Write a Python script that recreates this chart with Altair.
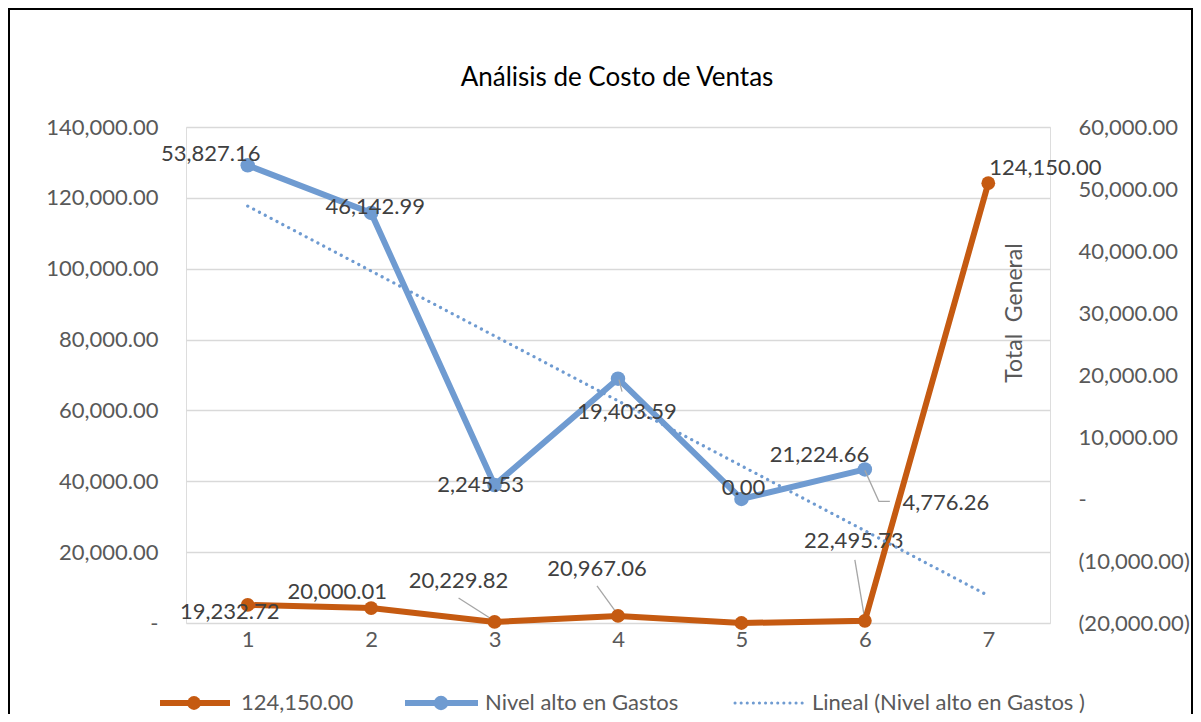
import altair as alt
import pandas as pd

# ---------------- data ----------------
categories = [1, 2, 3, 4, 5, 6, 7]
orange_values = [5100, 4200, 300, 2000, 0, 600, 124150]
orange_labels = ["19,232.72", "20,000.01", "20,229.82", "20,967.06",
                 "21,224.66", "22,495.73", "124,150.00"]
blue_categories = [1, 2, 3, 4, 5, 6]
blue_values = [53827.16, 46142.99, 2245.53, 19403.59, 0.00, 4776.26]
blue_labels = ["53,827.16", "46,142.99", "2,245.53", "19,403.59", "0.00", "4,776.26"]
left_ticks = [0, 20000, 40000, 60000, 80000, 100000, 120000, 140000]
right_ticks = [-20000, -10000, 0, 10000, 20000, 30000, 40000, 50000, 60000]
title_text = "Análisis de Costo de Ventas"
right_title = "Total\u00a0\u00a0General"
legend_names = ["124,150.00", "Nivel alto en Gastos", "Lineal (Nivel alto en Gastos )"]

# ---------------- styles ----------------
FONT = "Lato"
W, H = 864, 496
ORANGE = "#C55A11"
BLUE = "#6F9BD1"
LABEL_C = "#404040"
AXIS_C = "#595959"
FS = 22

# label offsets (px) relative to each point
orange_off = [(-18, 7), (-34, -16), (-36, -41), (-21, -47), (78, -168), (-11, -80), (57, -15)]
blue_off = [(-37, -11), (4, -6), (-14, 0), (9, 33), (2, -11), (81, 34)]
# leader lines: (series index, list of pixel offsets from point)
orange_leaders = [(2, [(-36, -24), (0, -1)]), (3, [(-21, -30), (0, -1)]), (5, [(-10, -61), (0, -1)])]
blue_leaders = [(3, [(1, 1), (4, 13)]), (5, [(0, 1), (14, 32), (25, 32)])]

X_DOMAIN = [0.5, 7.5]
px_per_x = W / (X_DOMAIN[1] - X_DOMAIN[0])
left_upp = (left_ticks[-1] - left_ticks[0]) / H
right_upp = (right_ticks[-1] - right_ticks[0]) / H

x_axis = alt.Axis(values=categories, format="d", grid=False, ticks=False, domain=False,
                  labelPadding=6, labelFont=FONT, labelFontSize=FS, labelColor=AXIS_C, title=None)
x_enc = alt.X("x:Q", scale=alt.Scale(domain=X_DOMAIN), axis=x_axis)

left_axis = alt.Axis(values=left_ticks, grid=True, gridColor="#d9d9d9", gridWidth=1.5,
                     domain=False, ticks=False, labelPadding=28, labelFont=FONT,
                     labelFontSize=FS, labelColor=AXIS_C, title=None,
                     labelExpr="datum.value === 0 ? '-\u2007' : format(datum.value, ',.2f')")
yl_enc = alt.Y("y:Q", scale=alt.Scale(domain=[left_ticks[0], left_ticks[-1]]), axis=left_axis)

right_axis = alt.Axis(values=right_ticks, orient="right", grid=False, domain=False, ticks=False,
                      labelPadding=28, labelFont=FONT, labelFontSize=FS, labelColor=AXIS_C,
                      labelAlign="left", title=None,
                      labelExpr="datum.value < 0 ? '(' + format(-datum.value, ',.2f') + ')' : (datum.value === 0 ? '-' : format(datum.value, ',.2f'))")
yr_enc = alt.Y("y:Q", scale=alt.Scale(domain=[right_ticks[0], right_ticks[-1]]), axis=right_axis)

orange_df = pd.DataFrame({"x": categories, "y": orange_values})
blue_df = pd.DataFrame({"x": blue_categories, "y": blue_values})


def leader_df(xs, ys, leaders, upp):
    rows = []
    for lid, (i, pts) in enumerate(leaders):
        for k, (dx, dy) in enumerate(pts):
            rows.append({"x": xs[i] + dx / px_per_x, "y": ys[i] - dy * upp, "lid": lid, "ord": k})
    return pd.DataFrame(rows)


def labels(xs, ys, texts, offs, y_enc):
    out = []
    for x, y, t, (dx, dy) in zip(xs, ys, texts, offs):
        out.append(
            alt.Chart(pd.DataFrame({"x": [x], "y": [y], "t": [t]}))
            .mark_text(dx=dx, dy=dy, font=FONT, fontSize=FS, color=LABEL_C,
                       align="center", baseline="middle")
            .encode(x=x_enc, y=y_enc, text="t:N")
        )
    return out


blank = alt.Data(values=[{}])


def deco_rule(x1, x2, y, color, width, dash=None, cap="butt"):
    kw = dict(color=color, strokeWidth=width, strokeCap=cap)
    if dash:
        kw["strokeDash"] = dash
    return alt.Chart(blank).mark_rule(**kw).encode(x=alt.value(x1), x2=alt.value(x2), y=alt.value(y))


def deco_text(x, y, text, size=FS, **kw):
    return alt.Chart(blank).mark_text(font=FONT, fontSize=size, **kw).encode(
        x=alt.value(x), y=alt.value(y), text=alt.value(text))


LY = 576
legend = [
    deco_rule(-26, 44, LY, ORANGE, 6),
    alt.Chart(blank).mark_circle(size=190, color=ORANGE, opacity=1).encode(x=alt.value(8), y=alt.value(LY)),
    deco_text(55, LY, legend_names[0], align="left", baseline="middle", color=AXIS_C),
    deco_rule(219, 292, LY, BLUE, 6),
    alt.Chart(blank).mark_circle(size=210, color=BLUE, opacity=1).encode(x=alt.value(255), y=alt.value(LY)),
    deco_text(299, LY, legend_names[1], align="left", baseline="middle", color=AXIS_C),
    deco_rule(549, 619, LY, BLUE, 3, dash=[0.1, 6], cap="round"),
    deco_text(626, LY, legend_names[2], align="left", baseline="middle", color=AXIS_C),
]

border = alt.Chart(blank).mark_rect(fillOpacity=0, stroke="black", strokeWidth=2).encode(
    x=alt.value(-177), x2=alt.value(1006), y=alt.value(-118), y2=alt.value(640))

total_general = deco_text(829, 186, right_title, size=23, angle=270, align="center",
                          baseline="middle", color=AXIS_C)
title = deco_text(431, -49, title_text, size=26, align="center", baseline="middle", color="black")

orange_line = alt.Chart(orange_df).mark_line(color=ORANGE, strokeWidth=6).encode(x=x_enc, y=yl_enc)
orange_pts = alt.Chart(orange_df).mark_circle(size=190, color=ORANGE, opacity=1).encode(x=x_enc, y=yl_enc)
orange_lead = alt.Chart(leader_df(categories, orange_values, orange_leaders, left_upp)).mark_line(
    color="#a6a6a6", strokeWidth=1.3).encode(x=x_enc, y=yl_enc, detail="lid:N", order="ord:Q")

left_group = alt.layer(
    border, title, orange_lead, orange_line, orange_pts,
    *labels(categories, orange_values, orange_labels, orange_off, yl_enc),
    *legend, total_general,
)

trend = alt.Chart(blue_df).transform_regression(
    "x", "y", method="linear", extent=[1, 7]
).mark_line(color=BLUE, strokeWidth=3.2, strokeDash=[0.1, 6.5], strokeCap="round").encode(x=x_enc, y=yr_enc)
blue_line = alt.Chart(blue_df).mark_line(color=BLUE, strokeWidth=6).encode(x=x_enc, y=yr_enc)
blue_pts = alt.Chart(blue_df).mark_circle(size=210, color=BLUE, opacity=1).encode(x=x_enc, y=yr_enc)
blue_lead = alt.Chart(leader_df(blue_categories, blue_values, blue_leaders, right_upp)).mark_line(
    color="#a6a6a6", strokeWidth=1.3).encode(x=x_enc, y=yr_enc, detail="lid:N", order="ord:Q")

right_group = alt.layer(
    trend, blue_line, blue_pts, blue_lead,
    *labels(blue_categories, blue_values, blue_labels, blue_off, yr_enc),
)

chart = alt.layer(left_group, right_group).resolve_scale(y="independent").properties(
    width=W, height=H,
    autosize=alt.AutoSizeParams(type="none"),
    padding={"left": 178, "top": 119, "right": 143, "bottom": 91},
).configure_view(stroke=None).configure(background="white")

chart.save("out.html", embed_options={"renderer": "svg", "actions": False})
